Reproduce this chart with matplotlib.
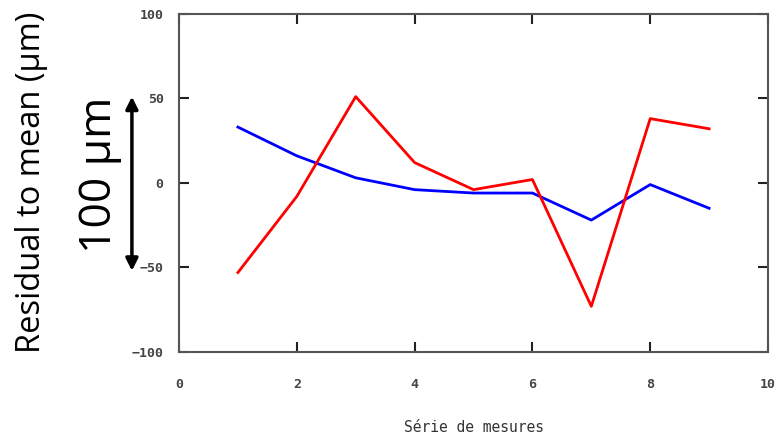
import matplotlib
matplotlib.use("Agg")
import matplotlib.pyplot as plt

# ---------- data ----------
serie = [1, 2, 3, 4, 5, 6, 7, 8, 9]
blue_vals = [33, 16, 3, -4, -6, -6, -22, -1, -15]
red_vals = [-53, -8, 51, 12, -4, 2, -73, 38, 32]
xticks = [0, 2, 4, 6, 8, 10]
yticks = [-100, -50, 0, 50, 100]

fig = plt.figure(figsize=(7.75, 4.37), dpi=100)
ax = fig.add_axes([0.231, 0.1945, 0.76, 0.774])

ax.plot(serie, blue_vals, color="#0000ff", lw=2)
ax.plot(serie, red_vals, color="#ff0000", lw=2)

ax.set_xlim(0, 10)
ax.set_ylim(-100, 100)
ax.set_xticks(xticks)
ax.set_yticks(yticks)
ax.tick_params(direction="in", length=7, width=1.5, color="#222222",
               top=True, right=True, labelsize=9.5, labelcolor="#444444")
ax.tick_params(axis="x", pad=19)
ax.tick_params(axis="y", pad=11)
for lab in ax.get_xticklabels() + ax.get_yticklabels():
    lab.set_family("DejaVu Sans Mono")
    lab.set_weight("bold")
for s in ax.spines.values():
    s.set_color("#555555")
    s.set_linewidth(1.5)

# x label placed in figure coords (below the tick labels)
fig.text(0.612, 0.021, "Série de mesures", family="DejaVu Sans Mono", fontsize=10.5,
         color="#333333", ha="center", va="center")

# annotations left of the axes
fig.text(0.041, 0.583, "Residual to mean (µm)", rotation=90, fontsize=23.5,
         family="Open Sans", ha="center", va="center")
fig.text(0.129, 0.60, "100 µm", rotation=90, fontsize=32,
         family="Open Sans", ha="center", va="center")
ax.annotate("", xy=(-0.08, 0.755), xytext=(-0.08, 0.24), xycoords="axes fraction",
            arrowprops=dict(arrowstyle="<|-|>", color="black", lw=2.5,
                            mutation_scale=18, shrinkA=0, shrinkB=0),
            annotation_clip=False)

fig.savefig("out.png", dpi=100)
